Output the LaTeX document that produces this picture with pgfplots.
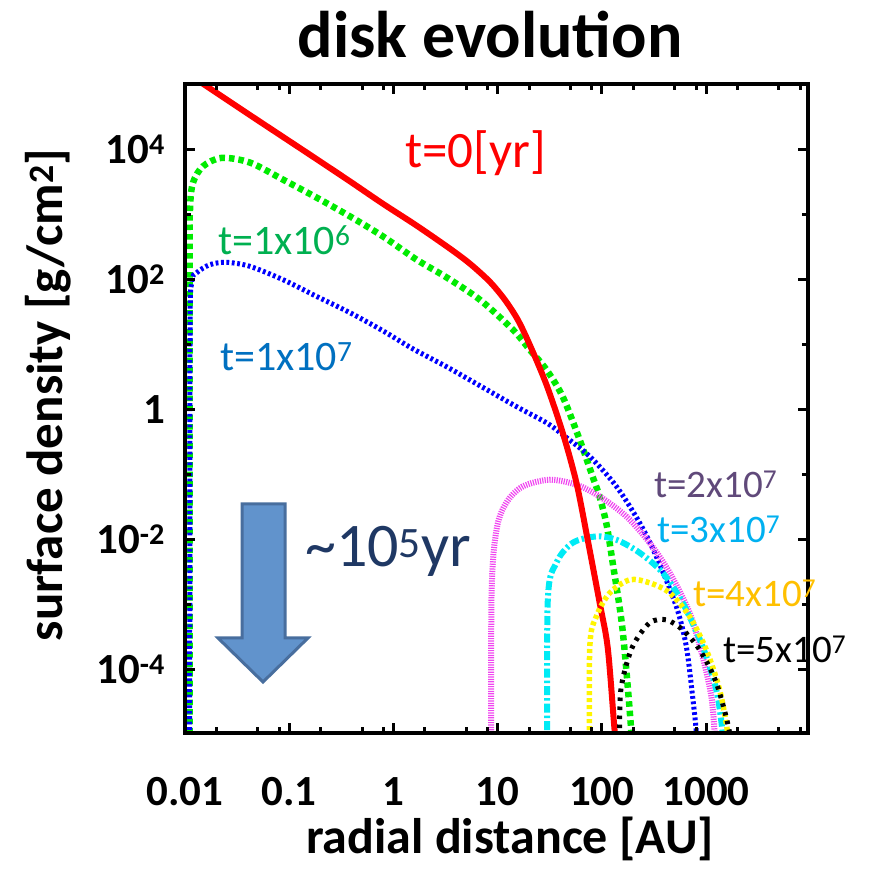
\documentclass[border=0pt]{standalone}
\usepackage{fontspec}
\setmainfont{Carlito}
\usepackage{pgfplots}
\pgfplotsset{compat=1.18}
\definecolor{cred}{RGB}{255,0,0}
\definecolor{cgreen}{RGB}{0,235,0}
\definecolor{cblue}{RGB}{0,0,255}
\definecolor{cmag}{RGB}{240,70,240}
\definecolor{ccyan}{RGB}{0,235,245}
\definecolor{cyel}{RGB}{255,245,0}
\definecolor{tgreen}{RGB}{0,176,80}
\definecolor{tblue}{RGB}{0,112,192}
\definecolor{tpurple}{RGB}{96,73,122}
\definecolor{tcyan}{RGB}{0,176,240}
\definecolor{torange}{RGB}{255,192,0}
\definecolor{tnavy}{RGB}{31,56,100}
\definecolor{afill}{RGB}{97,147,204}
\definecolor{adraw}{RGB}{72,110,158}
\begin{document}
\begin{tikzpicture}
\begin{axis}[
  at={(0pt,0pt)}, anchor=south west,
  scale only axis, width=623pt, height=649pt,
  xmode=log, ymode=log,
  xmin=0.01, xmax=9500, ymin=1.07e-5, ymax=1e5,
  axis line style={line width=4pt},
  axis on top,
  tick style={line width=3pt, black},
  major tick length=10pt, minor tick length=6pt,
  tick align=inside,
  xtick={0.01,0.1,1,10,100,1000},
  xticklabels={0.01,0.1,1,10,100,1000},
  minor xtick={0.02,0.05,0.08,0.2,0.5,0.8,2,5,8,20,50,80,200,500,800,2000,5000,8000},
  ytick={1e-4,1e-2,1,1e2,1e4},
  yticklabels={10\textsuperscript{-4},10\textsuperscript{-2},1,10\textsuperscript{2},10\textsuperscript{4}},
  minor ytick={1e-3,1e-1,10,1000},
  xticklabel style={font=\fontsize{43}{50}\selectfont\bfseries, anchor=base, yshift=-72pt, inner sep=0pt},
  yticklabel style={font=\fontsize{43}{50}\selectfont\bfseries, anchor=east, xshift=-20pt, inner sep=0pt},
]
\addplot[cgreen, line width=6.5pt, dash pattern=on 5.5pt off 4pt, smooth, tension=0.5] coordinates {
(0.01105,1e-6) (0.0111,100) (0.01117,1175) (0.01194,3055) (0.0149,5450) (0.0225,7330) (0.042,6210) (0.0871,3400) (0.183,1800) (0.382,927) (0.791,457) (1.67,200) (3.23,107) (6.74,48.6) (14.0,16.8) (20.3,8.28) (29.4,4.08) (42.1,1.57) (61.2,0.343) (81.7,0.092) (95.3,0.0453) (111,0.0169) (127,4.4e-3) (158,4.1e-4) (192,1.08e-5) (202,2e-6)};
\addplot[cblue, line width=5pt, dash pattern=on 2.8pt off 2.6pt, smooth, tension=0.5] coordinates {
(0.0111,1e-6) (0.01117,10) (0.01159,88.7) (0.01294,126) (0.01738,168) (0.0251,182) (0.042,158) (0.0871,98.6) (0.183,54.6) (0.382,30.7) (0.791,16.2) (1.53,8.57) (3.23,4.54) (6.74,2.32) (15.1,1.11) (29.4,0.625) (42.1,0.409) (76.4,0.19) (138,0.0656) (230,0.0182) (333,5.5e-3) (518,9.4e-4) (646,2.28e-4) (742,3.9e-5) (806,1.08e-5) (829,2.9e-6)};
\addplot[cmag, line width=6pt, dash pattern=on 1.2pt off 1.2pt, smooth, tension=0.5] coordinates {
(8.70,1e-6) (8.73,1.34e-3) (9.75,0.01416) (12.1,0.0369) (17.4,0.0656) (31.6,0.0832) (57.0,0.0697) (95.3,0.046) (172,0.0227) (287,8.95e-3) (447,3.1e-3) (695,7.5e-4) (926,1.6e-4) (1123,3.9e-5) (1208,1.08e-5) (1262,2.9e-6)};
\addplot[ccyan, line width=6pt, dash pattern=on 9pt off 3pt on 2.5pt off 3pt, smooth, tension=0.5] coordinates {
(30.1,1e-6) (30.2,1.07e-3) (36.6,4.4e-3) (52.5,8.95e-3) (88.5,0.0112) (138,9.95e-3) (230,6.3e-3) (383,3.1e-3) (596,1.07e-3) (926,2.28e-4) (1254,4.9e-5) (1440,1.08e-5) (1503,2.9e-6)};
\addplot[cred, line width=6pt, smooth, tension=0.5] coordinates {
(0.01,1.55e5) (0.01445,1.04e5) (0.042,3.33e4) (0.0871,1.54e4) (0.183,7020) (0.382,3200) (0.791,1450) (1.67,667) (3.48,296) (5.41,174) (8.40,91.8) (11.7,48.6) (15.6,23.9) (20.3,9.89) (29.4,2.40) (42.1,0.438) (57.0,0.0748) (73.1,9.95e-3) (95.3,1.06e-3) (114,2.13e-4) (133,1.08e-5) (142,4.2e-6)};
\addplot[cyel, line width=5.5pt, dash pattern=on 4pt off 3pt, smooth, tension=0.5] coordinates {
(76.3,1e-6) (76.4,2.03e-4) (88.5,6.6e-4) (119,1.52e-3) (185,2.42e-3) (287,2.17e-3) (447,1.52e-3) (695,6.6e-4) (1005,2.03e-4) (1349,4.9e-5) (1608,1.08e-5) (1680,2.9e-6)};
\addplot[black, line width=5pt, dash pattern=on 3.5pt off 5.5pt, smooth, tension=0.5] coordinates {
(148,1e-6) (148.5,2.5e-5) (158,7.0e-5) (197,2.28e-4) (287,5.27e-4) (415,5.86e-4) (596,4.12e-4) (867,2.03e-4) (1254,6.3e-5) (1680,1.08e-5) (1754,2.9e-6)};
\end{axis}
\begin{scope}[shift={(-185pt,733pt)}, x=1pt, y=-1pt]
\filldraw[fill=afill, draw=adraw, line width=3pt, line join=miter] (242,504) -- (285,504) -- (285,638) -- (308,638) -- (263,682) -- (218,638) -- (242,638) -- cycle;
\node[anchor=base, inner sep=0pt, font=\fontsize{66}{74}\selectfont\bfseries] at (490,58) {disk evolution};
\node[anchor=base, inner sep=0pt, font=\fontsize{50}{58}\selectfont\bfseries] at (510,853) {radial distance [AU]};
\node[rotate=90, anchor=center, inner sep=0pt, font=\fontsize{51}{60}\selectfont\bfseries] at (48,395) {surface density [g/cm\textsuperscript{2}]};
\node[anchor=base west, inner sep=0pt, text=cred, font=\fontsize{51}{60}\selectfont] at (405,168) {t=0[yr]};
\node[anchor=base west, inner sep=0pt, text=tgreen, font=\fontsize{42}{50}\selectfont] at (218,255) {t=1x10\textsuperscript{6}};
\node[anchor=base west, inner sep=0pt, text=tblue, font=\fontsize{42}{50}\selectfont] at (220,371) {t=1x10\textsuperscript{7}};
\node[anchor=base west, inner sep=0pt, text=tnavy, font=\fontsize{62}{72}\selectfont] at (305,567) {\textasciitilde10\textsuperscript{5}yr};
\node[anchor=base west, inner sep=0pt, text=tpurple, font=\fontsize{39}{46}\selectfont] at (654,498) {t=2x10\textsuperscript{7}};
\node[anchor=base west, inner sep=0pt, text=tcyan, font=\fontsize{39}{46}\selectfont] at (657,543) {t=3x10\textsuperscript{7}};
\node[anchor=base west, inner sep=0pt, text=torange, font=\fontsize{39}{46}\selectfont] at (693,607) {t=4x10\textsuperscript{7}};
\node[anchor=base west, inner sep=0pt, text=black, font=\fontsize{39}{46}\selectfont] at (723,663) {t=5x10\textsuperscript{7}};
\end{scope}
\pgfresetboundingbox
\useasboundingbox (-185pt,-136pt) rectangle (692pt,733pt);
\end{tikzpicture}
\end{document}
